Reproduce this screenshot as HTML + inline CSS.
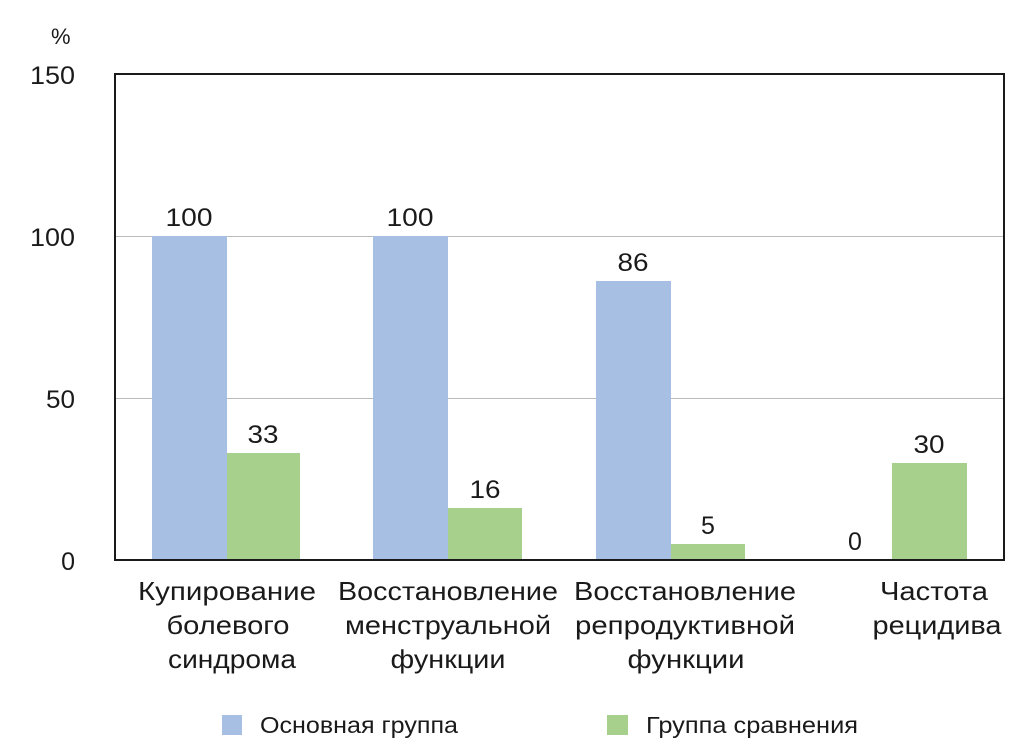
<!DOCTYPE html>
<html><head><meta charset="utf-8"><style>body{margin:0;background:#fff}svg{display:block}text{font-family:"Liberation Sans",sans-serif;fill:#1a1a1a}</style></head><body>
<svg width="1028" height="751" viewBox="0 0 1028 751">
<g stroke="#bbb" stroke-width="1"><line x1="115" y1="236.5" x2="1004" y2="236.5"/><line x1="115" y1="398.5" x2="1004" y2="398.5"/></g>
<g fill="#a6bfe3"><rect x="152" y="236" width="75" height="324"/><rect x="373" y="236" width="75" height="324"/><rect x="596" y="281" width="75" height="279"/></g>
<g fill="#a7d08c"><rect x="227" y="453" width="73" height="107"/><rect x="448" y="508" width="74" height="52"/><rect x="671" y="544" width="74" height="16"/><rect x="892" y="463" width="75" height="97"/></g>
<rect x="115" y="74" width="889" height="486" fill="none" stroke="#1a1a1a" stroke-width="2"/>
<g font-size="25" text-anchor="end"><text x="75" y="84" textLength="45" lengthAdjust="spacingAndGlyphs">150</text><text x="75" y="246" textLength="45" lengthAdjust="spacingAndGlyphs">100</text><text x="75" y="408" textLength="29" lengthAdjust="spacingAndGlyphs">50</text><text x="75" y="570">0</text></g>
<text x="51" y="44" font-size="22">%</text>
<g font-size="25" text-anchor="middle">
<text x="189" y="226" textLength="47" lengthAdjust="spacingAndGlyphs">100</text><text x="410" y="226" textLength="47" lengthAdjust="spacingAndGlyphs">100</text><text x="633" y="271" textLength="31" lengthAdjust="spacingAndGlyphs">86</text>
<text x="263" y="443" textLength="31" lengthAdjust="spacingAndGlyphs">33</text><text x="485" y="498" textLength="31" lengthAdjust="spacingAndGlyphs">16</text><text x="708" y="534">5</text><text x="855" y="550">0</text><text x="929" y="453" textLength="31" lengthAdjust="spacingAndGlyphs">30</text>
</g>
<g font-size="26" text-anchor="middle">
<text x="227" y="600" textLength="178" lengthAdjust="spacingAndGlyphs">Купирование</text><text x="228" y="634" textLength="123" lengthAdjust="spacingAndGlyphs">болевого</text><text x="232" y="668" textLength="128" lengthAdjust="spacingAndGlyphs">синдрома</text>
<text x="448" y="600" textLength="220" lengthAdjust="spacingAndGlyphs">Восстановление</text><text x="448" y="634" textLength="206" lengthAdjust="spacingAndGlyphs">менструальной</text><text x="448" y="668" textLength="115" lengthAdjust="spacingAndGlyphs">функции</text>
<text x="685" y="600" textLength="222" lengthAdjust="spacingAndGlyphs">Восстановление</text><text x="685" y="634" textLength="220" lengthAdjust="spacingAndGlyphs">репродуктивной</text><text x="686" y="668" textLength="117" lengthAdjust="spacingAndGlyphs">функции</text>
<text x="934" y="600" textLength="108" lengthAdjust="spacingAndGlyphs">Частота</text><text x="937" y="634" textLength="129" lengthAdjust="spacingAndGlyphs">рецидива</text>
</g>
<rect x="222" y="715" width="20" height="20" fill="#a6bfe3"/><text x="260" y="733" font-size="23" textLength="198" lengthAdjust="spacingAndGlyphs">Основная группа</text>
<rect x="607" y="715" width="21" height="20" fill="#a7d08c"/><text x="646" y="733" font-size="23" textLength="212" lengthAdjust="spacingAndGlyphs">Группа сравнения</text>
</svg>
</body></html>
